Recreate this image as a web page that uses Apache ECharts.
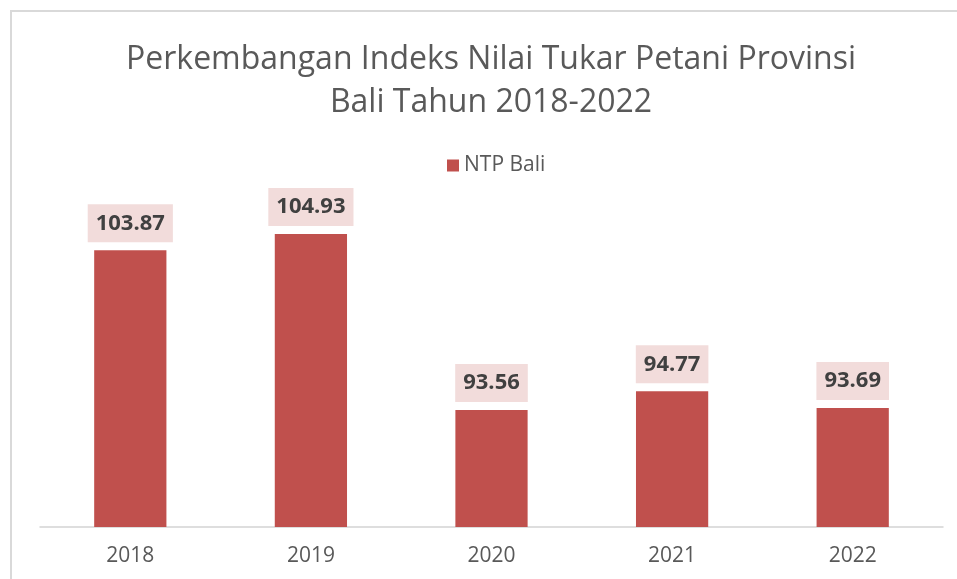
<!DOCTYPE html>
<html>
<head>
<meta charset="utf-8">
<script src="https://cdn.jsdelivr.net/npm/echarts@6/dist/echarts.min.js"></script>
<style>html,body{margin:0;padding:0;background:#fff;}#c{width:957px;height:579px;}</style>
</head>
<body>
<div id="c"></div>
<script>
const categories = ['2018', '2019', '2020', '2021', '2022'];
const ntpBali = [103.87, 104.93, 93.56, 94.77, 93.69];
const seriesName = 'NTP Bali';
const titleText = 'Perkembangan Indeks Nilai Tukar Petani Provinsi\nBali Tahun 2018-2022';

const chart = echarts.init(document.getElementById('c'), null, {renderer: 'canvas'});
chart.setOption({
  backgroundColor: '#ffffff',
  animation: false,
  graphic: [{
    type: 'rect',
    shape: {x: 11, y: 11, width: 1000, height: 700},
    style: {fill: 'none', stroke: '#d9d9d9', lineWidth: 2},
    silent: true
  }],
  title: {
    text: titleText,
    left: 491,
    top: 38,
    textAlign: 'center',
    padding: 0,
    textStyle: {
      fontFamily: 'Open Sans',
      fontWeight: 'normal',
      fontSize: 32,
      lineHeight: 43,
      color: '#595959'
    }
  },
  legend: {
    data: [seriesName],
    left: 447,
    top: 155,
    padding: 0,
    icon: 'rect',
    itemWidth: 12,
    itemHeight: 12,
    itemGap: 6,
    textStyle: {fontFamily: 'Open Sans', fontSize: 21, color: '#595959', padding: [0, 0, 0, 0]}
  },
  grid: {left: 40, right: 14, top: 217.4, bottom: 52, containLabel: false},
  xAxis: {
    type: 'category',
    data: categories,
    axisLine: {show: true, lineStyle: {color: '#d4d4d4', width: 1.5}},
    axisTick: {show: false},
    axisLabel: {fontFamily: 'Open Sans', fontSize: 21, color: '#595959', margin: 19}
  },
  yAxis: {
    type: 'value',
    min: 86,
    max: 106,
    show: false,
    splitLine: {show: false}
  },
  series: [{
    name: seriesName,
    type: 'bar',
    data: ntpBali,
    barCategoryGap: '60%',
    itemStyle: {color: '#c0504d'},
    label: {
      show: true,
      position: 'top',
      distance: 8,
      fontFamily: 'Open Sans',
      fontWeight: 'bold',
      fontSize: 22,
      lineHeight: 24,
      color: '#404040',
      backgroundColor: '#f2dcdb',
      padding: [7, 8, 7, 8],
      formatter: p => p.value.toFixed(2)
    }
  }]
});
</script>
</body>
</html>
